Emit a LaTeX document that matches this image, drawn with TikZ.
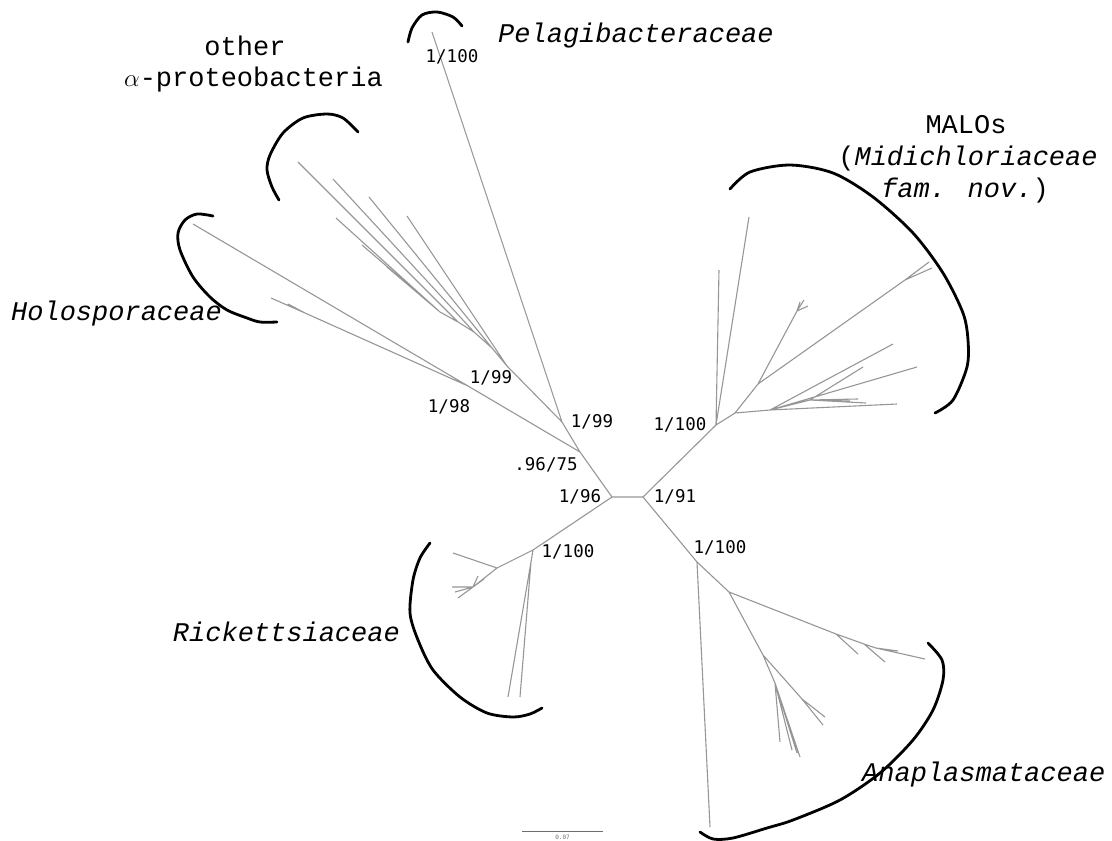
\documentclass[tikz,border=0pt]{standalone}
\usepackage{fontspec}
\usetikzlibrary{calc}
\newfontfamily\taxfont{Liberation Mono}
\newfontfamily\bsfont{DejaVu Sans Mono}
\definecolor{brGray}{RGB}{150,150,150}
\definecolor{barGray}{RGB}{110,110,110}

\begin{document}
\begin{tikzpicture}[x=1pt,y=-1pt,
  branch/.style={draw=brGray,line width=1.1pt},
  clade/.style={draw=black,line width=2.8pt,line cap=round},
  taxon/.style={font=\taxfont\fontsize{27}{32}\selectfont,inner sep=0pt,anchor=base},
  bs/.style={font=\bsfont\fontsize{17.5}{20}\selectfont,inner sep=0pt,anchor=base}]
\useasboundingbox (0,0) rectangle (1112,841);

% backbone
\coordinate (L0) at (612,497);
\coordinate (R0) at (643,497);
\coordinate (N75) at (580,452);
\coordinate (N99) at (562,422);
\coordinate (N98) at (468,386);
\coordinate (Pel) at (432,32);

% other alpha-proteobacteria
\coordinate (A0) at (507,366); \coordinate (A1) at (492,348);
\coordinate (A2) at (474,332); \coordinate (A3) at (458,322);
\coordinate (A4) at (440,312);
\coordinate (a1) at (407,216); \coordinate (a2) at (369,197);
\coordinate (a3) at (333,179); \coordinate (a4) at (298,162);
\coordinate (a5) at (336,218); \coordinate (a6) at (362,245);
\coordinate (a7) at (387,267);

% Holosporaceae
\coordinate (H1) at (305,313);
\coordinate (h1) at (193,224); \coordinate (h2) at (271,298);
\coordinate (h3) at (288,304);

% Rickettsiaceae
\coordinate (K0) at (533,550); \coordinate (K1) at (497,568);
\coordinate (K2) at (473,587); \coordinate (K3) at (531,562);
\coordinate (k1) at (453,553); \coordinate (k2) at (452,587);
\coordinate (k3) at (458,598); \coordinate (k4) at (455,592);
\coordinate (k5) at (478,576); \coordinate (k6) at (484,579);
\coordinate (k7) at (508,697); \coordinate (k8) at (520,697);

% MALOs
\coordinate (M0) at (716,425); \coordinate (M1) at (735,413);
\coordinate (M2) at (758,384); \coordinate (M3) at (770,410);
\coordinate (M4) at (797,311); \coordinate (M5) at (905,280);
\coordinate (M6) at (810,400);
\coordinate (m1) at (719,270); \coordinate (m2) at (749,217);
\coordinate (m3) at (800,302); \coordinate (m4) at (808,306);
\coordinate (m5) at (804,300); \coordinate (m6) at (929,262);
\coordinate (m7) at (932,268); \coordinate (m8) at (897,404);
\coordinate (m9) at (917,367); \coordinate (m10) at (893,344);
\coordinate (m11) at (863,367); \coordinate (m12) at (866,403);
\coordinate (m13) at (858,399); \coordinate (m14) at (850,401);

% Anaplasmataceae
\coordinate (N0) at (697,562); \coordinate (N1) at (729,592);
\coordinate (N2) at (763,655); \coordinate (N3) at (836,634);
\coordinate (N4) at (864,644); \coordinate (N5) at (876,648);
\coordinate (N6) at (802,699); \coordinate (N7) at (775,683);
\coordinate (n1) at (710,827); \coordinate (n2) at (925,659);
\coordinate (n3) at (858,654); \coordinate (n4) at (885,662);
\coordinate (n5) at (898,651); \coordinate (n6) at (825,717);
\coordinate (n7) at (823,725); \coordinate (n8) at (780,742);
\coordinate (n9) at (800,757); \coordinate (n10) at (797,753);
\coordinate (n11) at (792,750);

% branches
\draw[branch] (L0) -- (R0) (L0) -- (N75) (L0) -- (K0)
  (N75) -- (N99) (N75) -- (N98) (N99) -- (Pel) (N99) -- (A0)
  (R0) -- (M0) (R0) -- (N0);
\draw[branch] (A0) -- (a1) (A0) -- (A1) (A1) -- (a2) (A1) -- (A2)
  (A2) -- (a3) (A2) -- (A3) (A3) -- (a4) (A3) -- (A4)
  (A4) -- (a5) (A4) -- (a6) (A4) -- (a7);
\draw[branch] (N98) -- (h1) (N98) -- (H1) (H1) -- (h2) (H1) -- (h3);
\draw[branch] (K0) -- (K1) (K0) -- (K3) (K1) -- (k1) (K1) -- (K2)
  (K2) -- (k2) (K2) -- (k3) (K2) -- (k4) (K2) -- (k5) (K2) -- (k6)
  (K3) -- (k7) (K3) -- (k8);
\draw[branch] (M0) -- (m1) (M0) -- (m2) (M0) -- (M1)
  (M1) -- (M2) (M1) -- (M3) (M2) -- (M4) (M2) -- (M5)
  (M4) -- (m3) (M4) -- (m4) (M4) -- (m5) (M5) -- (m6) (M5) -- (m7)
  (M3) -- (m8) (M3) -- (m9) (M3) -- (m10) (M3) -- (M6)
  (M6) -- (m11) (M6) -- (m12) (M6) -- (m13) (M6) -- (m14);
\draw[branch] (N0) -- (n1) (N0) -- (N1) (N1) -- (N3) (N3) -- (N4)
  (N4) -- (N5) (N5) -- (n2) (N3) -- (n3) (N4) -- (n4) (N5) -- (n5)
  (N1) -- (N2) (N2) -- (N6) (N2) -- (N7) (N6) -- (n6) (N6) -- (n7)
  (N7) -- (n8) (N7) -- (n9) (N7) -- (n10) (N7) -- (n11);

% clade brackets
\draw[clade] plot[smooth] coordinates {(408,42) (412,28) (422,15) (437,12)
  (453,17) (462,26)};
\draw[clade] plot[smooth] coordinates {(358,132) (343,118) (327,114) (303,118)
  (283,133) (270,155) (267,170) (272,187) (279,200)};
\draw[clade] plot[smooth] coordinates {(213,216) (197,214) (185,220) (178,233)
  (180,250) (193,277) (210,297) (227,310) (247,318) (260,322) (277,322)};
\draw[clade] plot[smooth] coordinates {(730,189) (750,172) (790,165) (833,173)
  (873,197) (913,233) (943,273) (963,313) (968,340) (967,367) (953,400)
  (935,413)};
\draw[clade] plot[smooth] coordinates {(430,543) (420,558) (413,580) (410,613)
  (418,640) (433,670) (460,697) (487,713) (513,717) (530,714) (542,708)};
\draw[clade] plot[smooth] coordinates {(928,643) (942,660) (943,680) (933,710)
  (913,740) (880,773) (840,800) (793,820) (767,828) (733,838) (713,839)
  (700,832)};

% clade names
\node[taxon,anchor=base west] (tPel) at (498,42) {\itshape Pelagibacteraceae};
\node[taxon] (tOth) at (245,55) {other};
\node[taxon,anchor=base east] (tAlp) at (383,86) {$\alpha$-proteobacteria};
\node[taxon] (tMal) at (966,133) {MALOs};
\node[taxon] (tMid) at (968,165) {(\textit{Midichloriaceae}};
\node[taxon] (tFam) at (965,197) {\textit{fam. nov.})};
\node[taxon,anchor=base west] (tHol) at (11,320) {\itshape Holosporaceae};
\node[taxon,anchor=base east] (tRic) at (400,641) {\itshape Rickettsiaceae};
\node[taxon,anchor=base west] (tAna) at (862,781) {\itshape Anaplasmataceae};

% support values
\node[bs] (bPel) at (452,62) {1/100};
\node[bs] (bAlp) at (491,383) {1/99};
\node[bs] (bHol) at (449,412) {1/98};
\node[bs] (bMid) at (592,427) {1/99};
\node[bs] (b75) at (546,470) {.96/75};
\node[bs] (b96) at (580,502) {1/96};
\node[bs] (b91) at (675,502) {1/91};
\node[bs] (bMal) at (680,430) {1/100};
\node[bs] (bRic) at (568,557) {1/100};
\node[bs] (bAna) at (720,553) {1/100};

% scale bar
\coordinate (sbL) at (522,831);
\coordinate (sbR) at (603,831);
\draw[draw=barGray,line width=0.9pt] (sbL) -- (sbR);
\node[font=\bsfont\fontsize{6}{7}\selectfont,text=barGray,inner sep=0pt,
      anchor=base] (sbLab) at ($(sbL)!0.5!(sbR)+(0,8)$) {0.07};
\end{tikzpicture}
\end{document}
